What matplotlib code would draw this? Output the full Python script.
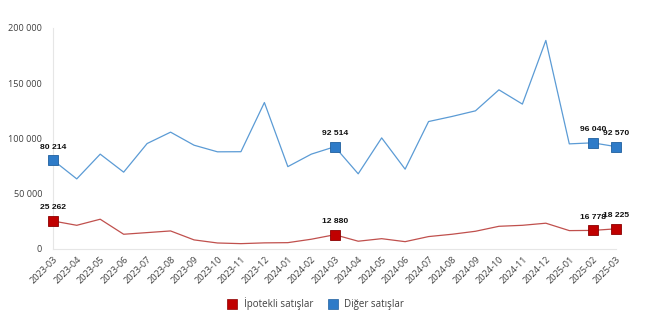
import numpy as np
import matplotlib.pyplot as plt
from matplotlib.lines import Line2D

months = ['2023-03', '2023-04', '2023-05', '2023-06', '2023-07', '2023-08',
          '2023-09', '2023-10', '2023-11', '2023-12', '2024-01', '2024-02',
          '2024-03', '2024-04', '2024-05', '2024-06', '2024-07', '2024-08',
          '2024-09', '2024-10', '2024-11', '2024-12', '2025-01', '2025-02',
          '2025-03']
ipotekli = [25262, 21400, 26900, 13300, 14800, 16300, 8200, 5400, 4800,
            5500, 5700, 8800, 12880, 7000, 9300, 6600, 11200, 13300, 16000,
            20500, 21400, 23300, 16600, 16778, 18225]
diger = [80214, 63400, 85800, 69500, 95400, 105700, 93900, 87900, 88000,
         132500, 74500, 85800, 92514, 68000, 100500, 72200, 115300, 119900,
         125000, 144000, 131100, 188700, 95100, 96040, 92570]
# points that get a marker and a value label
marked = [0, 12, 23, 24]

def fmt(v):
    return '{:,}'.format(v).replace(',', ' ')

plt.rcParams['font.family'] = ['Open Sans', 'DejaVu Sans']

fig = plt.figure(figsize=(6.5, 3.25), dpi=100)
ax = fig.add_axes([0.082, 0.234, 0.866, 0.68])

x = np.arange(len(months))
ax.plot(x, diger, color='#5b9bd5', lw=0.9, zorder=2)
ax.plot(x, ipotekli, color='#c0504d', lw=0.9, zorder=2)

for series, mc, ec in [(diger, '#2e7bc8', '#1f5f9e'), (ipotekli, '#c00000', '#8b0000')]:
    xs = [x[i] for i in marked]
    ys = [series[i] for i in marked]
    ax.plot(xs, ys, ls='none', marker='s', ms=6.8, mfc=mc, mec=ec, mew=0.6,
            zorder=3, clip_on=False)
    for i in marked:
        ax.annotate(fmt(series[i]), (x[i], series[i]), xytext=(0, 7),
                    textcoords='offset points', ha='center', va='bottom',
                    fontsize=6.1, fontweight='bold', color='#111111',
                    family=['Liberation Sans', 'DejaVu Sans'])

ax.set_xlim(0, len(months) - 1)
ax.set_ylim(0, 200000)
ax.set_yticks([0, 50000, 100000, 150000, 200000])
ax.set_yticklabels([fmt(v) for v in [0, 50000, 100000, 150000, 200000]])
ax.set_xticks(x)
ax.set_xticklabels(months, rotation=45, ha='right', rotation_mode='anchor')
ax.tick_params(axis='both', length=0, labelsize=6.6, colors='#404040', pad=8)
ax.tick_params(axis='x', pad=4)

for s in ['top', 'right']:
    ax.spines[s].set_visible(False)
ax.spines['left'].set_color('#e6e6e6')
ax.spines['bottom'].set_color('#e6e6e6')

# legend with square handles under the chart
handles = [Line2D([], [], ls='none', marker='s', ms=7, mfc='#c00000', mec='#8b0000', mew=0.5),
           Line2D([], [], ls='none', marker='s', ms=7, mfc='#2e7bc8', mec='#1f5f9e', mew=0.5)]
fig.legend(handles, ['İpotekli satışlar', 'Diğer satışlar'], loc='center',
           bbox_to_anchor=(0.482, 0.065), ncol=2, frameon=False, fontsize=7,
           handletextpad=0.2, columnspacing=1.0, labelcolor='#404040')

fig.savefig('out.png', dpi=100)
